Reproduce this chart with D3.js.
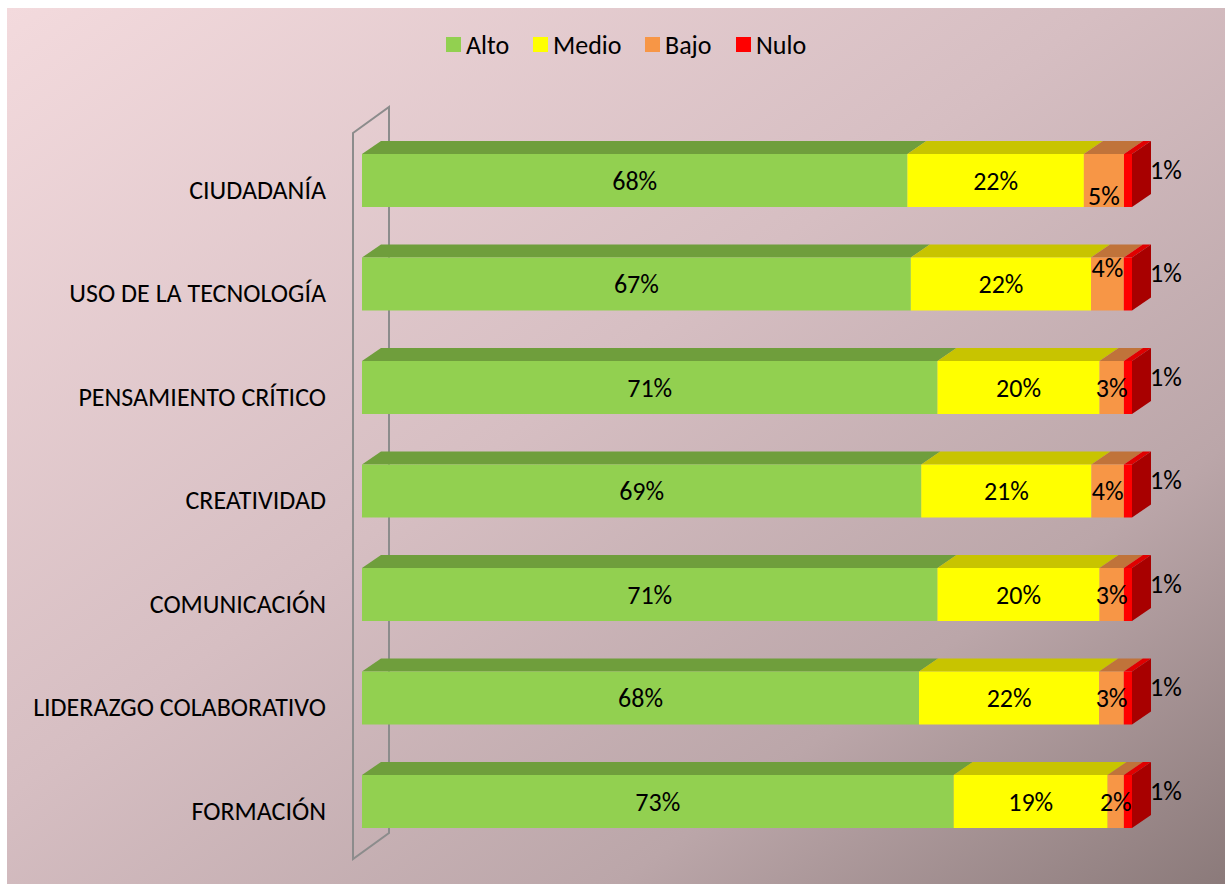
<!DOCTYPE html>
<html>
<head>
<meta charset="utf-8">
<script src="https://cdn.jsdelivr.net/npm/d3@7"></script>
<style>
  body { margin: 0; background: #fff; }
  svg { display: block; font-family: Carlito, Calibri, Lato, sans-serif; }
</style>
</head>
<body>
<div class="chart"></div>
<script>
const width = 1225;
const height = 884;

// data
const categories = ['CIUDADANÍA', 'USO DE LA TECNOLOGÍA', 'PENSAMIENTO CRÍTICO', 'CREATIVIDAD',
  'COMUNICACIÓN', 'LIDERAZGO COLABORATIVO', 'FORMACIÓN'];
const alto  = [68, 67, 71, 69, 71, 68, 73];
const medio = [22, 22, 20, 21, 20, 22, 19];
const bajo  = [5, 4, 3, 4, 3, 3, 2];
const nulo  = [1, 1, 1, 1, 1, 1, 1];
const seriesNames = ['Alto', 'Medio', 'Bajo', 'Nulo'];

// where Excel nudged the small "Bajo" labels (px, vertical)
const bajoShift = [15, -16, 0, 0, 0, 0, 0];

const frontColors = ['#92d050', '#ffff00', '#f79646', '#ff0000'];
const topColors   = ['#6f9e3c', '#c8c400', '#c0733a', '#e00000'];
const sideColor   = '#a80000';

const rows = categories.map((c, i) => ({
  cat: c, idx: i, Alto: alto[i], Medio: medio[i], Bajo: bajo[i], Nulo: nulo[i]
}));

const svg = d3.select('.chart').append('svg')
  .attr('width', width)
  .attr('height', height);

// background gradient
const defs = svg.append('defs');
const grad = defs.append('linearGradient').attr('id', 'bg')
  .attr('x1', '0%').attr('y1', '0%').attr('x2', '100%').attr('y2', '100%');
grad.append('stop').attr('offset', '0%').attr('stop-color', '#f3dadd');
grad.append('stop').attr('offset', '45%').attr('stop-color', '#d6bec2');
grad.append('stop').attr('offset', '75%').attr('stop-color', '#bba6a9');
grad.append('stop').attr('offset', '100%').attr('stop-color', '#8b7a7a');

svg.append('rect')
  .attr('x', 7).attr('y', 8)
  .attr('width', width - 7).attr('height', height - 8)
  .attr('fill', 'url(#bg)');

// scales
const x = d3.scaleLinear().domain([0, 1]).range([362, 1132]);
const y = d3.scaleBand().domain(categories).range([154, 828])
  .paddingInner(0.488).paddingOuter(0);

// 3d depth of a bar and of the wall
const bdx = 19, bdy = 13;
const wdx = 36, wdy = 26;

// back wall (just an outline)
const wx = x(0) - 9;
const wTop = y(categories[0]) - 21;
const wBot = y(categories[categories.length - 1]) + y.bandwidth() + 31;
svg.append('path')
  .attr('d', `M${wx},${wTop} L${wx + wdx},${wTop - wdy} L${wx + wdx},${wBot - wdy} L${wx},${wBot} Z`)
  .attr('fill', 'none')
  .attr('stroke', '#8c8c8c')
  .attr('stroke-width', 2);

// stack, normalised to 100%
const stack = d3.stack().keys(seriesNames).offset(d3.stackOffsetExpand);
const stacked = stack(rows);

const layers = svg.selectAll('.layer')
  .data(stacked)
  .enter()
  .append('g')
  .attr('class', 'layer');

// top faces
layers.selectAll('.topface')
  .data((s, i) => s.map(d => ({ d, i })))
  .enter()
  .append('path')
  .attr('d', ({ d }) => {
    const x0 = x(d[0]), x1 = x(d[1]), yt = y(d.data.cat);
    return `M${x0},${yt} L${x0 + bdx},${yt - bdy} L${x1 + bdx},${yt - bdy} L${x1},${yt} Z`;
  })
  .attr('fill', ({ i }) => topColors[i]);

// front faces
layers.selectAll('.frontface')
  .data((s, i) => s.map(d => ({ d, i })))
  .enter()
  .append('rect')
  .attr('x', ({ d }) => x(d[0]))
  .attr('y', ({ d }) => y(d.data.cat))
  .attr('width', ({ d }) => x(d[1]) - x(d[0]))
  .attr('height', y.bandwidth())
  .attr('fill', ({ i }) => frontColors[i]);

// right side of each bar
const last = stacked[stacked.length - 1];
svg.selectAll('.side')
  .data(last)
  .enter()
  .append('path')
  .attr('d', d => {
    const x1 = x(d[1]), yt = y(d.data.cat), yb = yt + y.bandwidth();
    return `M${x1},${yt} L${x1 + bdx},${yt - bdy} L${x1 + bdx},${yb - bdy} L${x1},${yb} Z`;
  })
  .attr('fill', sideColor);

// value labels
const labelFont = 26;
stacked.forEach((s, i) => {
  const key = seriesNames[i];
  svg.selectAll('.lbl' + i)
    .data(s)
    .enter()
    .append('text')
    .attr('x', d => key === 'Nulo' ? x(d[1]) + bdx - 1 : (x(d[0]) + x(d[1])) / 2)
    .attr('y', d => {
      const c = y(d.data.cat) + y.bandwidth() / 2;
      if (key === 'Nulo') return c - 11;
      if (key === 'Bajo') return c + bajoShift[d.data.idx];
      return c;
    })
    .attr('dy', '0.35em')
    .attr('text-anchor', key === 'Nulo' ? 'start' : 'middle')
    .attr('font-size', labelFont)
    .attr('fill', '#000')
    .text(d => d.data[key] + '%');
});

// category labels
svg.selectAll('.cat')
  .data(categories)
  .enter()
  .append('text')
  .attr('x', 326)
  .attr('y', d => y(d) + y.bandwidth() / 2 + 9)
  .attr('dy', '0.35em')
  .attr('text-anchor', 'end')
  .attr('font-size', 26)
  .attr('fill', '#000')
  .text(d => d);

// legend
const legendX = [446, 533, 645, 736];
const legend = svg.selectAll('.legend')
  .data(seriesNames)
  .enter()
  .append('g')
  .attr('transform', (d, i) => `translate(${legendX[i]}, 37)`);
legend.append('rect')
  .attr('width', 15).attr('height', 15)
  .attr('fill', (d, i) => frontColors[i]);
legend.append('text')
  .attr('x', 20).attr('y', 8)
  .attr('dy', '0.35em')
  .attr('font-size', 26)
  .text(d => d);
</script>
</body>
</html>
